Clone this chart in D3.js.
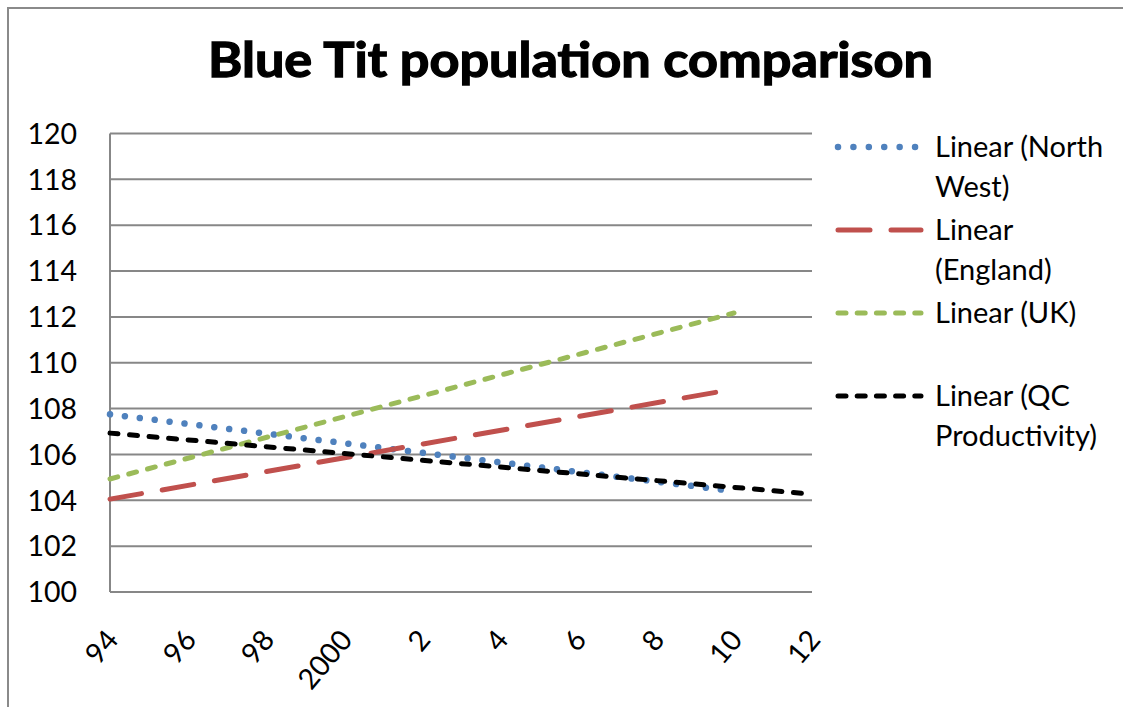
<!DOCTYPE html>
<html>
<head>
<meta charset="utf-8">
<script src="https://cdn.jsdelivr.net/npm/d3@7"></script>
<style>
  html, body { margin: 0; padding: 0; background: #fff; overflow: hidden; }
  svg { display: block; }
  text { font-family: Lato, "Liberation Sans", sans-serif; fill: #000; }
</style>
</head>
<body>
<div id="chart"></div>
<script>
// chart data (trend lines)
var tickYears  = [1994, 1996, 1998, 2000, 2002, 2004, 2006, 2008, 2010, 2012];
var tickLabels = ['94', '96', '98', '2000', '2', '4', '6', '8', '10', '12'];
var yTicks     = [100, 102, 104, 106, 108, 110, 112, 114, 116, 118, 120];

var seriesNames = ['North West', 'England', 'UK', 'QC Productivity'];
var nwYears  = [1994, 2010], nwValues  = [107.75, 104.4];
var engYears = [1994, 2010], engValues = [104.05, 108.85];
var ukYears  = [1994, 2010], ukValues  = [104.93, 112.17];
var qcYears  = [1994, 2012], qcValues  = [106.93, 104.27];

var legendLines = [
  ['Linear (North', 'West)'],
  ['Linear', '(England)'],
  ['Linear (UK)'],
  ['Linear (QC', 'Productivity)']
];

var W = 1123, H = 707;
var px = 110, pr = 812, pt = 133.5, pb = 592;

var svg = d3.select('#chart').append('svg')
  .attr('width', W)
  .attr('height', H);

/* outer chart frame: only top and left edges are in view */
svg.append('path')
  .attr('d', 'M8,' + H + 'V8H' + W)
  .attr('fill', 'none')
  .attr('stroke', '#8a8a8a')
  .attr('stroke-width', 2);

svg.append('text')
  .attr('x', 208).attr('y', 77)
  .attr('font-size', 48)
  .attr('font-weight', 'bold')
  .attr('stroke', '#000')
  .attr('stroke-width', 1.3)
  .attr('textLength', 725)
  .attr('lengthAdjust', 'spacingAndGlyphs')
  .text('Blue Tit population comparison');

var x = d3.scaleLinear().domain([1994, 2012]).range([px, pr]);
var y = d3.scaleLinear().domain([100, 120]).range([pb, pt]);

// gridlines
svg.append('g')
  .selectAll('line')
  .data(yTicks)
  .enter().append('line')
  .attr('x1', px).attr('x2', pr)
  .attr('y1', function (d) { return y(d); })
  .attr('y2', function (d) { return y(d); })
  .attr('stroke', '#878787')
  .attr('stroke-width', 2);

// y axis line
svg.append('line')
  .attr('x1', px).attr('x2', px)
  .attr('y1', pt).attr('y2', pb)
  .attr('stroke', '#878787')
  .attr('stroke-width', 2);

// y labels
svg.append('g')
  .selectAll('text')
  .data(yTicks)
  .enter().append('text')
  .attr('x', 77)
  .attr('y', function (d) { return y(d); })
  .attr('dy', '0.36em')
  .attr('text-anchor', 'end')
  .attr('font-size', 28.5)
  .text(function (d) { return d; });

// x labels, rotated
svg.append('g')
  .selectAll('text')
  .data(tickYears)
  .enter().append('text')
  .attr('transform', function (d) {
    return 'translate(' + (x(d) + 2) + ',' + 634 + ') rotate(-50)';
  })
  .attr('dy', '0.36em')
  .attr('text-anchor', 'end')
  .attr('font-size', 28.5)
  .text(function (d, i) { return tickLabels[i]; });

var styles = [
  { color: '#4f81bd', dash: '0.01 15',  width: 6.5 },
  { color: '#c0504d', dash: '32 21',    width: 5 },
  { color: '#9bbb59', dash: '8 11.4',   width: 5 },
  { color: '#000000', dash: '8 11.6',   width: 5 }
];

var series = [
  d3.zip(nwYears, nwValues),
  d3.zip(engYears, engValues),
  d3.zip(ukYears, ukValues),
  d3.zip(qcYears, qcValues)
];

var line = d3.line()
  .x(function (d) { return x(d[0]); })
  .y(function (d) { return y(d[1]); });

svg.append('g')
  .selectAll('path')
  .data([0, 1, 2, 3])
  .enter().append('path')
  .attr('d', function (i) { return line(series[i]); })
  .attr('fill', 'none')
  .attr('stroke', function (i) { return styles[i].color; })
  .attr('stroke-width', function (i) { return styles[i].width; })
  .attr('stroke-dasharray', function (i) { return styles[i].dash; })
  .attr('stroke-linecap', 'round');

// legend
var lg = svg.append('g')
  .selectAll('g')
  .data(legendLines)
  .enter().append('g')
  .attr('transform', function (d, i) { return 'translate(0,' + (157 + 83 * i) + ')'; });

lg.append('line')
  .attr('x1', 838).attr('x2', 921)
  .attr('y1', -10).attr('y2', -10)
  .attr('stroke', function (d, i) { return styles[i].color; })
  .attr('stroke-width', function (d, i) { return styles[i].width; })
  .attr('stroke-dasharray', function (d, i) { return i === 0 ? '0.01 15.4' : (i === 1 ? '32 21' : '8 11.2'); })
  .attr('stroke-linecap', 'round');

lg.each(function (d) {
  var g = d3.select(this);
  d.forEach(function (t, k) {
    g.append('text')
      .attr('x', 935)
      .attr('y', k * 40)
      .attr('font-size', 29)
      .text(t);
  });
});
</script>
</body>
</html>
